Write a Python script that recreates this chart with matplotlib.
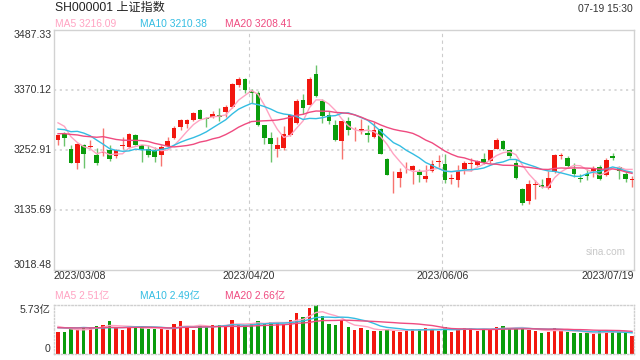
import matplotlib
matplotlib.use('Agg')
import matplotlib.pyplot as plt
import numpy as np
import pandas as pd
from matplotlib.transforms import blended_transform_factory

plt.rcParams['font.family'] = ['Liberation Sans', 'Noto Sans CJK SC', 'DejaVu Sans']

title = 'SH000001 上证指数'
timestamp = '07-19 15:30'
date_labels = ['2023/03/08', '2023/04/20', '2023/06/06', '2023/07/19']
date_index = [0, 30, 60, 89]
y_ticks = [3487.33, 3370.12, 3252.91, 3135.69, 3018.48]
vol_max = 5.73
ma_text = ['MA5 3216.09', 'MA10 3210.38', 'MA20 3208.41']
vol_ma_text = ['MA5 2.51亿', 'MA10 2.49亿', 'MA20 2.66亿']

opens = [3271.4, 3284.4, 3253.8, 3227.2, 3261.6, 3259.0, 3243.5, 3246.1, 3253.2, 3240.9,
         3260.3, 3258.4, 3281.1, 3261.6, 3254.5, 3251.9, 3242.2, 3260.3, 3276.6, 3296.7,
         3302.5, 3310.3, 3329.8, 3315.5, 3316.8, 3320.0, 3326.5, 3336.3, 3379.8, 3390.1,
         3366.8, 3363.5, 3300.6, 3275.9, 3255.1, 3256.4, 3281.1, 3305.8, 3349.3, 3340.8,
         3401.2, 3347.3, 3321.3, 3301.9, 3269.4, 3308.4, 3279.2, 3288.9, 3286.3, 3277.9,
         3292.8, 3235.7, 3197.4, 3198.0, 3218.8, 3213.0, 3212.3, 3196.7, 3211.0, 3229.8,
         3226.0, 3196.1, 3193.5, 3216.2, 3225.3, 3222.7, 3235.7, 3230.5, 3255.1, 3269.4,
         3251.9, 3227.9, 3176.0, 3152.6, 3184.4, 3183.8, 3178.6, 3209.7, 3241.5, 3237.6,
         3214.9, 3198.0, 3206.5, 3211.0, 3219.5, 3203.2, 3240.9, 3219.5, 3205.8, 3194.1]
highs = [3282.4, 3287.6, 3261.6, 3266.8, 3263.6, 3271.4, 3256.4, 3296.0, 3261.6, 3253.8,
         3277.9, 3285.7, 3283.1, 3262.9, 3261.6, 3258.4, 3262.9, 3277.9, 3298.6, 3313.6,
         3313.6, 3326.5, 3333.0, 3316.8, 3327.8, 3334.3, 3340.8, 3383.7, 3394.7, 3393.4,
         3372.0, 3366.8, 3301.9, 3287.6, 3277.9, 3298.6, 3321.3, 3352.5, 3362.2, 3394.7,
         3417.4, 3352.5, 3327.8, 3310.3, 3309.7, 3316.8, 3297.3, 3312.3, 3300.6, 3307.1,
         3295.4, 3237.0, 3211.0, 3217.5, 3229.2, 3224.0, 3216.2, 3224.0, 3232.4, 3243.5,
         3245.4, 3206.5, 3224.0, 3230.5, 3237.0, 3232.4, 3247.4, 3253.2, 3275.9, 3271.4,
         3253.8, 3235.7, 3178.6, 3193.5, 3193.5, 3195.4, 3211.0, 3245.4, 3247.4, 3240.9,
         3227.9, 3206.5, 3214.9, 3221.4, 3224.0, 3237.0, 3247.4, 3221.4, 3211.0, 3202.5]
lows = [3262.9, 3260.3, 3227.9, 3216.2, 3217.5, 3256.4, 3224.0, 3240.9, 3231.1, 3237.6,
        3255.1, 3256.4, 3261.6, 3229.2, 3238.9, 3229.2, 3221.4, 3258.4, 3274.6, 3290.8,
        3295.4, 3308.4, 3312.3, 3297.3, 3314.9, 3308.4, 3316.8, 3334.3, 3375.2, 3364.2,
        3343.4, 3299.3, 3263.6, 3229.2, 3238.9, 3251.9, 3279.8, 3303.8, 3323.3, 3339.5,
        3355.7, 3305.8, 3303.8, 3269.4, 3235.7, 3282.4, 3269.4, 3284.4, 3268.1, 3275.9,
        3244.1, 3203.2, 3169.5, 3180.5, 3208.4, 3187.0, 3190.2, 3190.2, 3209.7, 3219.5,
        3189.0, 3187.0, 3180.5, 3206.5, 3211.0, 3220.8, 3226.0, 3227.9, 3253.8, 3251.9,
        3237.0, 3196.7, 3144.8, 3148.1, 3157.8, 3178.6, 3177.3, 3208.4, 3234.4, 3219.5,
        3200.0, 3190.2, 3193.5, 3200.0, 3193.5, 3201.9, 3232.4, 3196.7, 3190.2, 3180.5]
closes = [3281.1, 3275.9, 3227.9, 3264.9, 3244.8, 3260.3, 3227.2, 3248.0, 3235.7, 3251.9,
          3262.3, 3283.1, 3262.9, 3251.9, 3243.5, 3238.9, 3258.4, 3269.4, 3295.4, 3310.3,
          3310.3, 3324.6, 3313.6, 3313.6, 3323.3, 3316.8, 3336.3, 3381.7, 3390.1, 3370.0,
          3362.9, 3300.6, 3275.9, 3263.6, 3261.6, 3283.1, 3320.0, 3347.3, 3334.3, 3391.4,
          3357.7, 3318.8, 3308.4, 3271.4, 3308.4, 3290.8, 3280.5, 3294.1, 3282.4, 3292.1,
          3245.4, 3204.5, 3198.7, 3209.7, 3220.1, 3221.4, 3204.5, 3201.3, 3225.9, 3231.1,
          3193.5, 3197.4, 3211.0, 3227.9, 3226.6, 3230.5, 3227.9, 3251.9, 3271.4, 3253.8,
          3240.9, 3198.0, 3150.0, 3185.7, 3185.7, 3180.5, 3198.7, 3242.2, 3242.8, 3221.4,
          3206.5, 3196.1, 3201.9, 3217.5, 3195.4, 3232.4, 3237.6, 3211.0, 3196.7, 3195.4]
# volume in 亿
volumes = [2.61, 2.61, 2.89, 2.89, 3.12, 3.00, 3.28, 3.39, 3.90, 3.00,
           2.81, 3.12, 3.12, 3.20, 2.89, 2.89, 2.89, 2.81, 3.51, 3.90,
           3.20, 2.81, 3.39, 3.20, 3.39, 3.39, 3.39, 3.98, 3.39, 3.39,
           3.59, 3.90, 3.59, 3.78, 3.59, 3.51, 3.98, 4.84, 4.37, 5.34,
           5.73, 4.45, 3.51, 3.39, 3.98, 3.20, 2.81, 3.08, 2.81, 2.73,
           2.73, 2.89, 2.73, 2.61, 2.89, 2.89, 2.89, 3.08, 2.89, 2.73,
           3.12, 2.61, 2.89, 3.08, 3.08, 2.73, 2.89, 2.89, 3.20, 3.28,
           3.00, 3.00, 3.00, 2.81, 2.73, 2.50, 2.61, 3.08, 2.73, 2.61,
           2.42, 2.50, 2.42, 2.30, 2.73, 2.73, 2.61, 2.61, 2.42, 2.11]
# sessions before the visible window (moving-average warm-up only)
prior_closes = [3270.4, 3260.7, 3284.2, 3293.3, 3280.5, 3249.0, 3224.0, 3290.3, 3306.5, 3291.2,
                3287.5, 3267.2, 3258.0, 3279.6, 3312.4, 3310.7, 3328.4, 3322.0, 3285.1]
prior_volumes = [3.0, 2.9, 3.2, 3.1, 2.8, 3.0, 2.9, 3.3, 3.5, 3.0,
                 2.9, 2.8, 2.9, 2.7, 3.4, 3.3, 3.6, 3.4, 3.2]

RED = '#f2170f'
GREEN = '#0a9c0c'
C_MA5 = '#ffa3c2'
C_MA10 = '#34bde2'
C_MA20 = '#ef4b80'
GRID = '#d6d6d6'
TXT = '#333333'
FS = 7.6

n = len(closes)
x = np.arange(n)
o = np.array(opens); h = np.array(highs); l = np.array(lows); c = np.array(closes)
v = np.array(volumes)
up = c >= o
cols = np.where(up, RED, GREEN)

cs = pd.Series(prior_closes + closes)
vs = pd.Series(prior_volumes + volumes)
k = len(prior_closes)
ma = {p: cs.rolling(p, min_periods=1).mean().values[k:] for p in (5, 10, 20)}
vma = {p: vs.rolling(p, min_periods=1).mean().values[k:] for p in (5, 10, 20)}

W, H = 640, 360
fig = plt.figure(figsize=(6.4, 3.6), dpi=100)
ax = fig.add_axes([54 / W, 1 - 270 / H, 580 / W, (270 - 29.5) / H])
vax = fig.add_axes([54 / W, 1 - 354 / H, 580 / W, (354 - 305) / H])

xl = (-0.62, 89.3)
for a in (ax, vax):
    a.set_xlim(*xl)
    a.set_xticks([]); a.set_yticks([])
    for i in date_index[1:3]:
        a.axvline(i - 0.4, color='#cccccc', lw=0.8, ls=(0, (3, 3)), zorder=0)

ax.set_ylim(y_ticks[-1], y_ticks[0])
for s in ax.spines.values():
    s.set_color('#d2d2d2'); s.set_linewidth(1)
for yv in y_ticks[1:4]:
    ax.axhline(yv, color=GRID, lw=1.3, ls=(0, (1.2, 2.0)), zorder=0)

# candles
ax.vlines(x, l, h, colors=cols, lw=1.0, alpha=0.6, zorder=2)
body_h = np.maximum(np.abs(c - o), 1.3)
ax.bar(x, body_h, bottom=np.minimum(o, c), width=0.74, color=cols, lw=0, zorder=3)

ax.plot(x, ma[5], color=C_MA5, lw=1.0, zorder=4)
ax.plot(x, ma[10], color=C_MA10, lw=1.0, zorder=4)
ax.plot(x, ma[20], color=C_MA20, lw=1.0, zorder=4)

# y labels
tr = blended_transform_factory(ax.transAxes, ax.transData)
ax.text(-0.004, y_ticks[0], f'{y_ticks[0]:.2f}', transform=tr, ha='right', va='top', fontsize=FS, color=TXT)
for yv in y_ticks[1:4]:
    ax.text(-0.004, yv, f'{yv:.2f}', transform=tr, ha='right', va='center', fontsize=FS, color=TXT)
ax.text(-0.004, y_ticks[-1], f'{y_ticks[-1]:.2f}', transform=tr, ha='right', va='bottom', fontsize=FS, color=TXT)

# date labels
trx = blended_transform_factory(ax.transData, ax.transAxes)
has = ['left', 'center', 'center', 'right']
xs = [xl[0], date_index[1] - 0.4, date_index[2] - 0.4, xl[1]]
for lab, xx, ha in zip(date_labels, xs, has):
    ax.text(xx, -0.006, lab, transform=trx, ha=ha, va='top', fontsize=FS, color=TXT)

ax.text(0.985, 0.075, 'sina.com', transform=ax.transAxes, ha='right', va='center', fontsize=7.2, color='#c8c8c8')

# volume panel
vax.set_ylim(0, vol_max)
for s in vax.spines.values():
    s.set_color('#cfcfcf'); s.set_linewidth(1); s.set_linestyle((0, (1, 1.5)))
vax.bar(x, v, width=0.52, color=cols, lw=0, zorder=2)
vax.plot(x, vma[5], color=C_MA5, lw=1.0, zorder=3)
vax.plot(x, vma[10], color=C_MA10, lw=1.0, zorder=3)
vax.plot(x, vma[20], color=C_MA20, lw=1.0, zorder=3)
trv = blended_transform_factory(vax.transAxes, vax.transData)
vax.text(-0.006, vol_max, f'{vol_max:.2f}亿', transform=trv, ha='right', va='top', fontsize=FS, color=TXT)
vax.text(-0.006, 0, '0', transform=trv, ha='right', va='bottom', fontsize=FS, color=TXT)

# headers
fig.text(55 / W, 1 - 8 / H, title, ha='left', va='center', fontsize=8.7, color='#222222')
fig.text(633 / W, 1 - 9.5 / H, timestamp, ha='right', va='center', fontsize=7.4, color=TXT)
for txt, xp, col in zip(ma_text, [55, 140, 225], [C_MA5, C_MA10, C_MA20]):
    fig.text(xp / W, 1 - 24 / H, txt, ha='left', va='center', fontsize=7.4, color=col)
for txt, xp, col in zip(vol_ma_text, [55, 140, 225], [C_MA5, C_MA10, C_MA20]):
    fig.text(xp / W, 1 - 295.5 / H, txt, ha='left', va='center', fontsize=7.4, color=col)

fig.savefig('out.png', dpi=100)
